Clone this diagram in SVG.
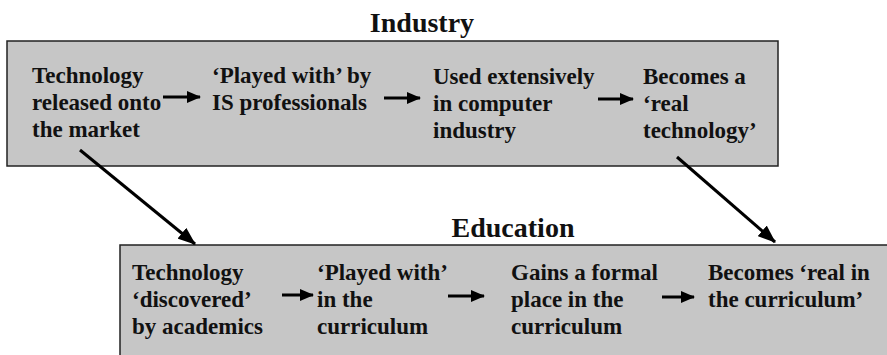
<svg xmlns="http://www.w3.org/2000/svg" width="887" height="355" viewBox="0 0 887 355">
<style>
  .box { fill: #c6c6c6; stroke: #222; stroke-width: 1.5; }
  .title { font-family: 'Liberation Serif', 'DejaVu Serif', serif; font-weight: bold; font-size: 28px; fill: #111; text-anchor: middle; }
  .lbl { font-family: 'Liberation Serif', 'DejaVu Serif', serif; font-weight: bold; font-size: 23px; fill: #111; }
  .arr { stroke: #000; stroke-width: 3; fill: none; }
</style>
<defs>
  <marker id="ah" markerUnits="userSpaceOnUse" markerWidth="14" markerHeight="12" refX="13" refY="6" orient="auto">
    <path d="M0,0 L14,6 L0,12 Z" fill="#000"/>
  </marker>
  <marker id="ahBig" markerUnits="userSpaceOnUse" markerWidth="18" markerHeight="14" refX="17" refY="7" orient="auto">
    <path d="M0,0 L18,7 L0,14 Z" fill="#000"/>
  </marker>
</defs>
<rect width="887" height="355" fill="#fff"/>

<g id="industry">
  <text class="title" x="422" y="32" font-family="Liberation Serif">Industry</text>
  <rect class="box" x="7" y="41" width="771" height="125"/>
</g>
<g id="education">
  <text class="title" x="513" y="237" font-family="Liberation Serif">Education</text>
  <rect class="box" x="120" y="245" width="780" height="120"/>
</g>

<g id="ind1"><text class="lbl" font-family="Liberation Serif" x="32" y="83">Technology<tspan x="32" y="110">released onto</tspan><tspan x="32" y="137">the market</tspan></text></g>
<g id="ind2"><text class="lbl" font-family="Liberation Serif" x="212" y="83">‘Played with’ by<tspan x="212" y="110">IS professionals</tspan></text></g>
<g id="ind3"><text class="lbl" font-family="Liberation Serif" x="433" y="84">Used extensively<tspan x="433" y="111">in computer</tspan><tspan x="433" y="138">industry</tspan></text></g>
<g id="ind4"><text class="lbl" font-family="Liberation Serif" x="643" y="84">Becomes a<tspan x="643" y="111">‘real</tspan><tspan x="643" y="138">technology’</tspan></text></g>

<g id="edu1"><text class="lbl" font-family="Liberation Serif" x="132" y="280">Technology<tspan x="132" y="307">‘discovered’</tspan><tspan x="132" y="334">by academics</tspan></text></g>
<g id="edu2"><text class="lbl" font-family="Liberation Serif" x="317" y="280">‘Played with’<tspan x="317" y="307">in the</tspan><tspan x="317" y="334">curriculum</tspan></text></g>
<g id="edu3"><text class="lbl" font-family="Liberation Serif" x="511" y="280">Gains a formal<tspan x="511" y="307">place in the</tspan><tspan x="511" y="334">curriculum</tspan></text></g>
<g id="edu4"><text class="lbl" font-family="Liberation Serif" x="708" y="280">Becomes ‘real in<tspan x="708" y="307">the curriculum’</tspan></text></g>

<g id="connectors">
  <line class="arr" x1="163" y1="97" x2="200" y2="97" marker-end="url(#ah)"/>
  <line class="arr" x1="384" y1="98" x2="420" y2="98" marker-end="url(#ah)"/>
  <line class="arr" x1="598" y1="99" x2="633" y2="99" marker-end="url(#ah)"/>
  <line class="arr" x1="282" y1="295" x2="313" y2="295" marker-end="url(#ah)"/>
  <line class="arr" x1="448" y1="296" x2="484" y2="296" marker-end="url(#ah)"/>
  <line class="arr" x1="662" y1="297" x2="694" y2="297" marker-end="url(#ah)"/>
  <line class="arr" x1="80" y1="150" x2="195" y2="244" marker-end="url(#ahBig)"/>
  <line class="arr" x1="677" y1="157" x2="775" y2="242" marker-end="url(#ahBig)"/>
</g>
</svg>
